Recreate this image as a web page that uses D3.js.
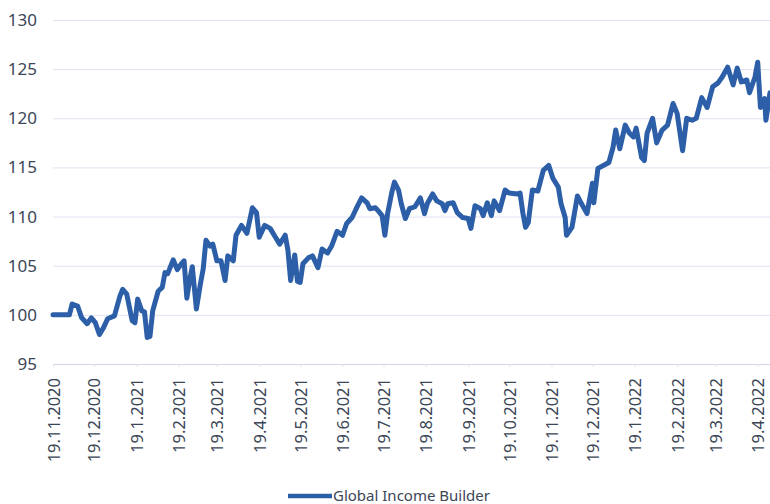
<!DOCTYPE html>
<html>
<head>
<meta charset="utf-8">
<script src="https://d3js.org/d3.v7.min.js"></script>
<style>
  body { margin: 0; background: #fff; }
  text { font-family: "Noto Sans", sans-serif; fill: #3b4656; }
</style>
</head>
<body>
<script>
  let width = 770;
  let height = 504;

  // values
  let dates = [
    "2020-11-19","2020-12-01","2020-12-03","2020-12-07","2020-12-10","2020-12-14","2020-12-17","2020-12-20",
    "2020-12-23","2020-12-26","2020-12-29","2021-01-03","2021-01-07","2021-01-09","2021-01-12","2021-01-16",
    "2021-01-18","2021-01-20","2021-01-23","2021-01-25","2021-01-27","2021-01-29","2021-01-31","2021-02-04",
    "2021-02-07","2021-02-09","2021-02-11","2021-02-15","2021-02-18","2021-02-21","2021-02-23","2021-02-25",
    "2021-02-27","2021-03-01","2021-03-04","2021-03-07","2021-03-09","2021-03-11","2021-03-14","2021-03-16",
    "2021-03-19","2021-03-22","2021-03-25","2021-03-27","2021-03-31","2021-04-02","2021-04-06","2021-04-10",
    "2021-04-14","2021-04-17","2021-04-19","2021-04-23","2021-04-27","2021-04-30","2021-05-04","2021-05-08",
    "2021-05-10","2021-05-12","2021-05-15","2021-05-17","2021-05-19","2021-05-21","2021-05-25","2021-05-28",
    "2021-06-01","2021-06-04","2021-06-08","2021-06-11","2021-06-15","2021-06-19","2021-06-22","2021-06-26",
    "2021-06-29","2021-07-03","2021-07-07","2021-07-09","2021-07-13","2021-07-15","2021-07-18","2021-07-20",
    "2021-07-22","2021-07-25","2021-07-27","2021-07-30","2021-08-01","2021-08-04","2021-08-07","2021-08-11",
    "2021-08-15","2021-08-18","2021-08-20","2021-08-24","2021-08-27","2021-08-31","2021-09-02","2021-09-04",
    "2021-09-08","2021-09-11","2021-09-15","2021-09-19","2021-09-21","2021-09-24","2021-09-28","2021-09-30",
    "2021-10-03","2021-10-06","2021-10-08","2021-10-12","2021-10-16","2021-10-19","2021-10-25","2021-10-27",
    "2021-10-29","2021-10-31","2021-11-02","2021-11-05","2021-11-09","2021-11-13","2021-11-17","2021-11-20",
    "2021-11-24","2021-11-26","2021-11-29","2021-11-30","2021-12-04","2021-12-08","2021-12-11","2021-12-15",
    "2021-12-19","2021-12-20","2021-12-23","2021-12-27","2021-12-31","2022-01-03","2022-01-05","2022-01-08",
    "2022-01-12","2022-01-15","2022-01-18","2022-01-20","2022-01-24","2022-01-26","2022-01-28","2022-02-01",
    "2022-02-04","2022-02-08","2022-02-12","2022-02-16","2022-02-19","2022-02-23","2022-02-26","2022-03-02",
    "2022-03-05","2022-03-09","2022-03-13","2022-03-17","2022-03-21","2022-03-24","2022-03-28","2022-04-01",
    "2022-04-04","2022-04-07","2022-04-11","2022-04-13","2022-04-17","2022-04-19","2022-04-21","2022-04-24",
    "2022-04-25","2022-04-28"
  ];
  let values = [
    100.0,100.0,101.1,100.9,99.7,99.1,99.7,99.2,
    98.0,98.7,99.6,99.9,101.9,102.6,102.1,99.4,
    99.2,101.6,100.4,100.3,97.7,97.8,100.4,102.4,
    102.8,104.3,104.2,105.6,104.6,105.2,105.5,101.7,
    103.5,104.9,100.6,103.2,104.7,107.6,107.0,107.2,
    105.5,105.5,103.5,106.0,105.5,108.1,109.1,108.3,
    110.9,110.4,107.9,109.1,108.8,108.1,107.2,108.1,
    106.6,103.5,106.1,103.4,103.3,105.2,105.8,106.0,
    104.8,106.7,106.3,107.0,108.5,108.1,109.3,109.9,
    110.8,111.9,111.4,110.8,110.9,110.6,110.1,108.1,
    110.3,112.4,113.5,112.7,111.3,109.8,110.8,111.0,
    111.9,110.3,111.3,112.3,111.6,111.3,110.6,111.3,
    111.4,110.4,109.9,109.8,108.8,111.1,110.8,110.1,
    111.4,110.1,111.6,110.6,112.7,112.4,112.3,112.4,
    110.4,108.9,109.4,112.7,112.6,114.7,115.2,113.9,
    113.0,111.3,109.9,108.1,108.9,112.1,111.3,110.3,
    113.4,111.4,114.9,115.2,115.5,117.0,118.8,116.9,
    119.3,118.5,118.1,119.0,116.0,115.7,118.5,120.0,
    117.5,118.8,119.3,121.5,120.5,116.7,120.0,119.8,
    120.0,122.1,121.1,123.2,123.6,124.2,125.2,123.4,
    125.1,123.7,123.9,122.6,124.2,125.7,121.1,122.0,
    119.8,122.6
  ];
  let yTicks = [95, 100, 105, 110, 115, 120, 125, 130];
  let xTickLabels = [
    "19.11.2020","19.12.2020","19.1.2021","19.2.2021","19.3.2021","19.4.2021","19.5.2021","19.6.2021",
    "19.7.2021","19.8.2021","19.9.2021","19.10.2021","19.11.2021","19.12.2021","19.1.2022","19.2.2022",
    "19.3.2022","19.4.2022"
  ];
  let seriesName = "Global Income Builder";

  let parseDate = d3.timeParse("%Y-%m-%d");
  let parseTick = d3.timeParse("%d.%m.%Y");
  let data = dates.map(function (d, i) { return { date: parseDate(d), value: values[i] }; });

  let svg = d3.select("body").append("svg")
      .attr("width", width)
      .attr("height", height)
      .style("background-color", "white");

  let x_scale = d3.scaleTime()
      .domain([parseDate("2020-11-19"), parseDate("2022-04-28")])
      .range([53, 770]);

  let y_scale = d3.scaleLinear()
      .domain([95, 130])
      .range([364, 20]);

  // gridlines
  svg.append("g")
      .selectAll("line")
      .data(yTicks)
      .enter()
      .append("line")
      .attr("x1", 53)
      .attr("x2", width)
      .attr("y1", function (d) { return y_scale(d) + 0.5; })
      .attr("y2", function (d) { return y_scale(d) + 0.5; })
      .attr("stroke", function (d) { return d == 95 ? "#d2d6e4" : "#dfe2f0"; })
      .attr("stroke-width", 1);

  // y labels
  let yAxis = d3.axisLeft(y_scale).tickValues(yTicks).tickSize(0).tickPadding(0);
  svg.append("g")
      .attr("transform", "translate(37,0)")
      .call(yAxis)
      .call(function (g) { g.select(".domain").remove(); })
      .selectAll("text")
      .style("font-family", "'Noto Sans', sans-serif")
      .style("font-size", "17px")
      .attr("fill", "#3b4656");

  // x labels, rotated
  let tickDates = xTickLabels.map(parseTick);
  let xAxis = d3.axisBottom(x_scale).tickValues(tickDates).tickSize(3)
      .tickFormat(function (d, i) { return xTickLabels[i]; });
  let gx = svg.append("g")
      .attr("transform", "translate(0,364)")
      .call(xAxis);
  gx.select(".domain").remove();
  gx.selectAll("line").attr("stroke", "#dfe2f0");
  gx.selectAll("text")
      .style("font-family", "'Noto Sans', sans-serif")
      .style("font-size", "16.5px")
      .attr("fill", "#3b4656")
      .attr("text-anchor", "end")
      .attr("dy", null)
      .attr("y", 0)
      .attr("transform", "translate(0,14) rotate(-90) translate(0,6)");

  // series line
  let line = d3.line()
      .x(function (d) { return x_scale(d.date); })
      .y(function (d) { return y_scale(d.value); });

  svg.append("path")
      .datum(data)
      .attr("d", line)
      .attr("fill", "none")
      .attr("stroke", "#2d5fa8")
      .attr("stroke-width", 5)
      .attr("stroke-linejoin", "round")
      .attr("stroke-linecap", "round");

  // legend
  svg.append("line")
      .attr("x1", 288).attr("x2", 332)
      .attr("y1", 496).attr("y2", 496)
      .attr("stroke", "#2d5fa8")
      .attr("stroke-width", 4.5);
  svg.append("text")
      .attr("x", 333)
      .attr("y", 501)
      .style("font-size", "15px")
      .text(seriesName);
</script>
</body>
</html>
